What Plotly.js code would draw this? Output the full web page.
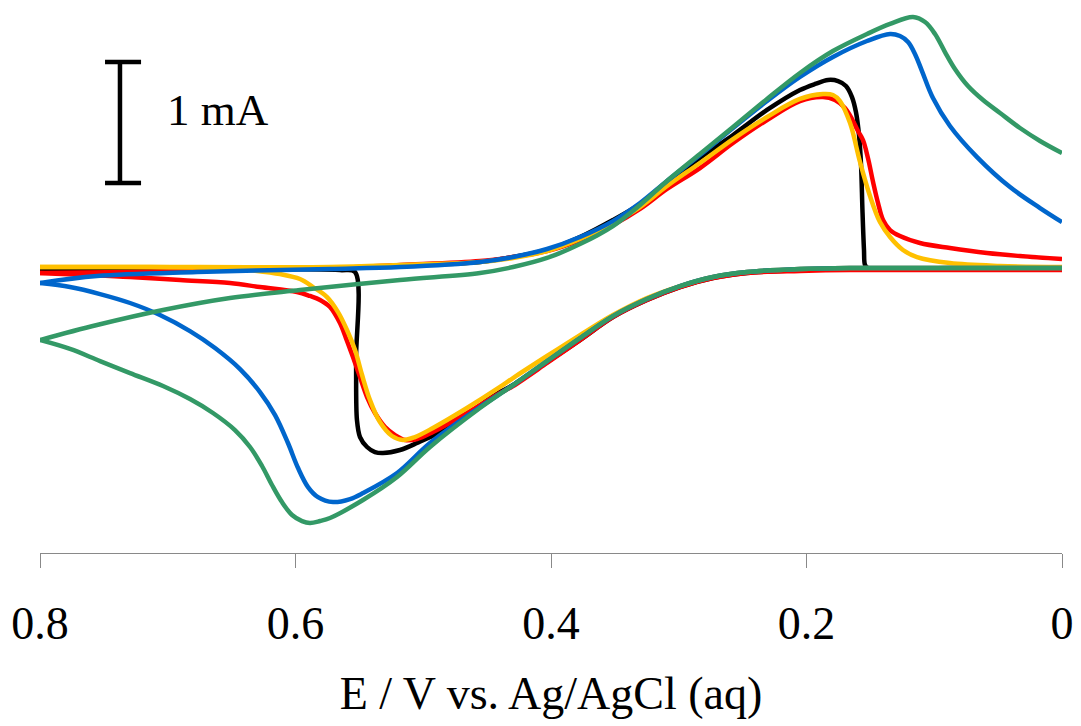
<!DOCTYPE html>
<html>
<head>
<meta charset="utf-8">
<script src="https://cdn.plot.ly/plotly-3.0.1.min.js"></script>
<style>html,body{margin:0;padding:0;background:#fff;}#chart{width:1081px;height:726px;}</style>
</head>
<body>
<div id="chart"></div>
<script>
// Potential E (V vs. Ag/AgCl) and current I (mA); each loop: scan 0 -> 0.8 V, then back 0.8 -> 0 V
const redE = [0,0.0877,0.1659,0.2051,0.2466,0.2732,0.2990,0.3249,0.3515,0.3773,0.4031,0.4297,0.4399,0.4658,0.4924,0.5049,0.5143,0.5221,0.5299,0.5378,0.5440,0.5495,0.5550,0.5605,0.5652,0.5730,0.5808,0.5887,0.5988,0.6278,0.6513,0.6904,0.7295,0.8,
  0.7295,0.6513,0.5730,0.5182,0.4556,0.4297,0.4031,0.3773,0.3515,0.3303,0.3092,0.2834,0.2575,0.2309,0.2051,0.1871,0.1777,0.1699,0.1644,0.1597,0.1558,0.1519,0.1479,0.1440,0.1401,0.1346,0.1268,0.1112,0.0877,0.0587,0.0329,0];
const redI = [-0.017,-0.017,-0.017,-0.025,-0.041,-0.083,-0.157,-0.264,-0.405,-0.595,-0.785,-0.975,-1.033,-1.198,-1.355,-1.413,-1.421,-1.380,-1.314,-1.198,-1.066,-0.901,-0.736,-0.579,-0.455,-0.322,-0.264,-0.231,-0.198,-0.157,-0.124,-0.099,-0.074,-0.041,
  -0.033,-0.017,0,0.025,0.058,0.091,0.140,0.231,0.355,0.488,0.653,0.826,1.033,1.223,1.380,1.413,1.388,1.322,1.231,1.132,1.058,0.909,0.711,0.537,0.397,0.314,0.264,0.207,0.165,0.124,0.099,0.074];

const blackE = [0,0.0877,0.1659,0.2051,0.2466,0.2732,0.2990,0.3249,0.3515,0.3773,0.4031,0.4297,0.4399,0.4532,0.4791,0.5049,0.5182,0.5315,0.5378,0.5440,0.5495,0.5519,0.5526,0.5534,0.5652,0.6748,0.8,
  0.6748,0.5730,0.5182,0.4556,0.4297,0.4031,0.3773,0.3515,0.3303,0.3092,0.2834,0.2575,0.2309,0.2051,0.1933,0.1832,0.1753,0.1691,0.1644,0.1613,0.1589,0.1573,0.1562,0.1550,0.1542,0.1519,0.0877,0];
const blackI = [-0.008,-0.008,-0.008,-0.017,-0.041,-0.083,-0.157,-0.264,-0.405,-0.595,-0.777,-0.967,-1.025,-1.116,-1.314,-1.446,-1.504,-1.529,-1.521,-1.479,-1.397,-1.256,-0.760,-0.033,-0.017,-0.008,-0.008,
  -0.008,0,0.017,0.050,0.091,0.149,0.256,0.397,0.529,0.702,0.909,1.099,1.306,1.471,1.521,1.554,1.545,1.504,1.413,1.289,1.099,0.851,0.479,0.149,0.025,0,0,0];

const yellowE = [0,0.0877,0.1659,0.2051,0.2466,0.2732,0.2990,0.3249,0.3515,0.3773,0.4031,0.4297,0.4399,0.4658,0.4924,0.5065,0.5159,0.5245,0.5339,0.5417,0.5479,0.5534,0.5597,0.5667,0.5753,0.5863,0.5965,0.6121,0.6356,0.6513,0.7139,0.8,
  0.6748,0.5730,0.5182,0.4556,0.4297,0.4031,0.3773,0.3515,0.3303,0.3092,0.2834,0.2575,0.2309,0.2051,0.1871,0.1793,0.1738,0.1659,0.1581,0.1503,0.1425,0.1346,0.1245,0.1135,0.0877,0.0485,0];
const yellowI = [0,0,0,-0.008,-0.033,-0.074,-0.149,-0.248,-0.388,-0.554,-0.727,-0.909,-0.983,-1.157,-1.322,-1.397,-1.421,-1.388,-1.273,-1.091,-0.884,-0.678,-0.512,-0.364,-0.240,-0.157,-0.091,-0.050,-0.017,0,0.008,0.008,
  0.008,0.008,0.025,0.050,0.083,0.140,0.240,0.372,0.504,0.678,0.868,1.066,1.248,1.397,1.438,1.430,1.380,1.198,0.876,0.595,0.380,0.256,0.149,0.091,0.041,0.017,0.008];

const blueE = [0,0.0877,0.1659,0.2051,0.2466,0.2732,0.2990,0.3249,0.3515,0.3773,0.4031,0.4297,0.4556,0.4947,0.5205,0.5472,0.5573,0.5706,0.5824,0.5902,0.5980,0.6059,0.6160,0.6278,0.6434,0.6630,0.6826,0.7061,0.7295,0.7530,0.7765,0.8,
  0.7554,0.6771,0.5730,0.5182,0.4556,0.4297,0.4031,0.3773,0.3515,0.3303,0.3092,0.2834,0.2575,0.2309,0.2051,0.1793,0.1526,0.1346,0.1268,0.1205,0.1151,0.1096,0.1010,0.0877,0.0665,0.0407,0.0172,0];
const blueI = [0,0,0,-0.008,-0.033,-0.074,-0.149,-0.256,-0.397,-0.579,-0.769,-0.967,-1.149,-1.446,-1.694,-1.860,-1.909,-1.934,-1.893,-1.810,-1.653,-1.446,-1.215,-1.025,-0.835,-0.661,-0.521,-0.388,-0.289,-0.215,-0.157,-0.124,
  -0.066,-0.033,-0.008,0.008,0.050,0.091,0.157,0.256,0.388,0.537,0.719,0.934,1.157,1.380,1.579,1.744,1.876,1.934,1.917,1.868,1.769,1.628,1.405,1.174,0.917,0.669,0.496,0.380];

const greenE = [0,0.0877,0.1659,0.2051,0.2466,0.2732,0.2990,0.3249,0.3515,0.3773,0.4031,0.4297,0.4556,0.4947,0.5205,0.5472,0.5730,0.5808,0.5887,0.5949,0.6027,0.6106,0.6184,0.6262,0.6356,0.6474,0.6646,0.6826,0.7037,0.7295,0.7530,0.7765,0.8,
  0.7554,0.7037,0.6513,0.5965,0.5182,0.4556,0.4297,0.4031,0.3773,0.3515,0.3303,0.3092,0.2834,0.2575,0.2309,0.2051,0.1793,0.1526,0.1346,0.1166,0.1072,0.0994,0.0916,0.0838,0.0736,0.0618,0.0485,0.0329,0.0172,0];
const greenI = [0,0,0,-0.008,-0.033,-0.074,-0.149,-0.256,-0.397,-0.579,-0.769,-0.967,-1.157,-1.479,-1.727,-1.917,-2.066,-2.091,-2.107,-2.091,-2.041,-1.934,-1.793,-1.636,-1.479,-1.339,-1.198,-1.083,-0.975,-0.868,-0.769,-0.669,-0.595,
  -0.471,-0.347,-0.248,-0.182,-0.099,-0.041,0.008,0.083,0.198,0.347,0.521,0.719,0.942,1.165,1.397,1.612,1.793,1.934,2.017,2.074,2.033,1.934,1.785,1.645,1.504,1.388,1.281,1.157,1.050,0.950];

const tickVals = [0.8, 0.6, 0.4, 0.2, 0];
const tickText = ['0.8', '0.6', '0.4', '0.2', '0'];

// scale bar (1 mA)
const barE = 0.7374, barCapL = 0.7491, barCapR = 0.7209, barLow = 0.702, barHigh = 1.702;
const barLabel = '1 mA';

const FONT = '"Liberation Serif", "Times New Roman", serif';

// split each loop at the switching potential so the turning point stays a sharp cusp
function loopTraces(E, I, color, smooth) {
  let k = 0;
  for (let i = 1; i < E.length; i++) if (E[i] > E[k]) k = i;
  const mk = (x, y) => ({x: x, y: y, type: 'scatter', mode: 'lines', hoverinfo: 'skip', showlegend: false,
    line: {color: color, width: 4.5, shape: 'spline', smoothing: smooth}});
  return [mk(E.slice(0, k + 1), I.slice(0, k + 1)), mk(E.slice(k), I.slice(k))];
}

const data = [].concat(
  loopTraces(blackE, blackI, '#000000', 0.9),
  loopTraces(redE, redI, '#FF0000', 1.0),
  loopTraces(yellowE, yellowI, '#FFC000', 1.0),
  loopTraces(blueE, blueI, '#0066CC', 1.0),
  loopTraces(greenE, greenI, '#339966', 1.0)
);

const layout = {
  width: 1081, height: 726,
  margin: {l: 40, r: 19, t: 0, b: 173},
  paper_bgcolor: '#ffffff', plot_bgcolor: '#ffffff',
  showlegend: false,
  xaxis: {
    range: [0.8, 0], autorange: false,
    tickvals: tickVals, ticktext: tickText,
    showgrid: false, zeroline: false,
    showline: true, linecolor: '#898989', linewidth: 1,
    ticks: 'outside', ticklen: 14, tickcolor: '#898989', tickwidth: 1,
    tickfont: {family: FONT, size: 46, color: '#000'},
    ticklabelstandoff: 16,
    automargin: true,
    title: {text: 'E / V vs. Ag/AgCl (aq)', font: {family: FONT, size: 46, color: '#000'}, standoff: 28}
  },
  yaxis: {
    range: [-2.355, 2.215], autorange: false, visible: false, showgrid: false, zeroline: false
  },
  shapes: [
    {type: 'line', xref: 'x', yref: 'y', x0: barE, x1: barE, y0: barLow, y1: barHigh, line: {color: '#000', width: 4.5}},
    {type: 'line', xref: 'x', yref: 'y', x0: barCapL, x1: barCapR, y0: barLow, y1: barLow, line: {color: '#000', width: 4.5}},
    {type: 'line', xref: 'x', yref: 'y', x0: barCapL, x1: barCapR, y0: barHigh, y1: barHigh, line: {color: '#000', width: 4.5}}
  ],
  annotations: [
    {xref: 'x', yref: 'y', x: 0.7022, y: (barLow + barHigh) / 2 + 0.1, text: barLabel, showarrow: false,
     xanchor: 'left', yanchor: 'middle', font: {family: FONT, size: 45, color: '#000'}}
  ]
};

Plotly.newPlot('chart', data, layout, {displayModeBar: false, staticPlot: true});
</script>
</body>
</html>
